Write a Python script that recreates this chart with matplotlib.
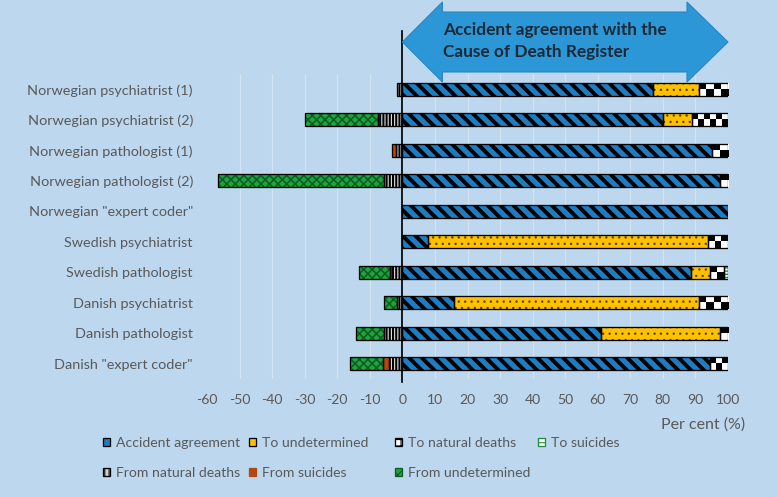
import numpy as np
import matplotlib.pyplot as plt
from matplotlib.patches import Polygon, Patch
from matplotlib.transforms import blended_transform_factory

categories = ['Norwegian psychiatrist (1)', 'Norwegian psychiatrist (2)',
              'Norwegian pathologist (1)', 'Norwegian pathologist (2)',
              'Norwegian "expert coder"', 'Swedish psychiatrist',
              'Swedish pathologist', 'Danish psychiatrist',
              'Danish pathologist', 'Danish "expert coder"']

# right side (per cent of cases moving away from / staying at accident)
accident = [77, 80, 95, 97.5, 100, 8, 88.5, 16, 61, 94.5]
to_undetermined = [14, 9, 0, 0, 0, 86, 6, 75, 36.5, 0]
to_natural = [9, 11, 5, 2.5, 0, 6, 4.3, 9, 2.5, 5.5]
to_suicides = [0, 0, 0, 0, 0, 0, 1.2, 0, 0, 0]

# left side (per cent coming into accident from other causes)
from_natural = [1.5, 7.4, 2, 5.7, 0, 0, 3.2, 1.6, 5.5, 4.2]
from_suicides = [0, 0, 1.1, 0, 0, 0, 0.7, 0, 0, 1.7]
from_undetermined = [0, 22.4, 0, 50.8, 0, 0, 9.5, 4.1, 8.6, 10.3]

xticks = list(range(-60, 101, 10))

BG = '#BDD7EE'
TXT = '#595959'
DPI = 77.8
plt.rcParams['font.family'] = ['Lato', 'DejaVu Sans']

fig = plt.figure(figsize=(10, 497 / DPI), dpi=DPI, facecolor=BG)
ax = fig.add_axes([207 / 778, 1 - 379 / 497, (728 - 207) / 778, (379 - 74) / 497])
ax.set_facecolor(BG)

y = np.arange(len(categories))
H = 0.42


def segment(left, width, face, hatch=None, hcolor='black', hlw=1.0):
    left = np.asarray(left, float)
    width = np.asarray(width, float)
    keep = width != 0
    with plt.rc_context({'hatch.linewidth': hlw}):
        bars = ax.barh(y[keep], width[keep], H, left=left[keep], color=face,
                       hatch=hatch, edgecolor=hcolor, linewidth=0, zorder=3)
    ax.barh(y[keep], width[keep], H, left=left[keep], fill=False,
            edgecolor='black', linewidth=1.2, zorder=5)
    return bars


acc = np.array(accident, float)
tu = np.array(to_undetermined, float)
tn = np.array(to_natural, float)
fn = np.array(from_natural, float)
fs = np.array(from_suicides, float)

segment(np.zeros_like(acc), accident, '#1F7CC1', '\\\\', 'black', 3.6)
segment(acc, to_undetermined, '#FFC000', '..', '#5a4200', 1.0)
segment(acc + tu, to_natural, 'white')
segment(acc + tu + tn, to_suicides, 'white', '----', '#1E8E3A', 1.2)

# checker pattern for "to natural deaths"
for yi, l, w in zip(y, acc + tu, tn):
    if w <= 0:
        continue
    n = max(1, int(round(w / 2.0)))
    board = np.indices((2, n)).sum(axis=0) % 2
    ax.imshow(board, cmap='gray', extent=(l, l + w, yi + H / 2, yi - H / 2),
              aspect='auto', interpolation='nearest', zorder=4)

segment(np.zeros_like(fn), -fn, '#DCDCDC', '||||', 'black', 1.9)
segment(-fn, -fs, '#B5470F')
segment(-fn - fs, [-v for v in from_undetermined], '#1FA33C', 'xxx', '#0C5E22', 1.5)

ax.set_xlim(-60, 100)
ax.set_ylim(len(categories) - 0.5, -0.5)
ax.set_xticks(xticks, [str(t) for t in xticks])
ax.set_yticks(y, categories)
ax.grid(axis='x', color='#D3E3F0', linewidth=1.2, zorder=0)
ax.get_xgridlines()[0].set_visible(False)
ax.set_axisbelow(True)
for s in ax.spines.values():
    s.set_visible(False)
ax.tick_params(axis='y', length=0, pad=13, labelcolor=TXT, labelsize=13.3)
ax.tick_params(axis='x', length=0, pad=14, labelcolor=TXT, labelsize=13)
ax.axvline(0, ymin=-0.01, ymax=1.141, color='black', linewidth=1.6,
           clip_on=False, zorder=6)
fig.text(745 / 778, 1 - 425 / 497, 'Per cent (%)', ha='right', va='center',
         color=TXT, fontsize=14.8)

# arrow banner
tr = blended_transform_factory(ax.transData, fig.transFigure)
yc, hh, bh = 1 - 42 / 497, 40 / 497, 30 / 497
x0, x1, b0, b1 = 0, 100, 12.3, 87.4
arrow = Polygon([(x0, yc), (b0, yc + hh), (b0, yc + bh), (b1, yc + bh),
                 (b1, yc + hh), (x1, yc), (b1, yc - hh), (b1, yc - bh),
                 (b0, yc - bh), (b0, yc - hh)], closed=True, transform=tr,
                facecolor='#2C97D6', edgecolor='#2A86C0', linewidth=1,
                clip_on=False, zorder=7)
fig.add_artist(arrow)
fig.text(443 / 778, 1 - 30 / 497, 'Accident agreement with the', ha='left',
         va='center', fontsize=16, fontweight='bold', color='#1B2836', zorder=8)
fig.text(443 / 778, 1 - 52 / 497, 'Cause of Death Register', ha='left',
         va='center', fontsize=16, fontweight='bold', color='#1B2836', zorder=8)

# legend: four equal-width columns like the original
handles = [
    Patch(facecolor='#1F7CC1', edgecolor='black', linewidth=1.2),
    Patch(facecolor='#D4D4D4', edgecolor='black', hatch='|||', linewidth=1.2),
    Patch(facecolor='#FFC000', edgecolor='black', linewidth=1.2),
    Patch(facecolor='#B5470F', edgecolor='#B5470F', linewidth=1.2),
    Patch(facecolor='white', edgecolor='black', hatch='++', linewidth=1.2),
    Patch(facecolor='#1FA33C', edgecolor='#0C5E22', hatch='xx', linewidth=1.2),
    Patch(facecolor='white', edgecolor='#1E8E3A', hatch='---', linewidth=1.2),
]
labels = ['Accident agreement', 'From natural deaths', 'To undetermined',
          'From suicides', 'To natural deaths', 'From undetermined', 'To suicides']
col_x = [103, 249, 395, 538]
for i, cx in enumerate(col_x):
    fig.legend(handles[2 * i:2 * i + 2], labels[2 * i:2 * i + 2],
               loc='upper left', bbox_to_anchor=(cx / 778, 1 - 437 / 497),
               frameon=False, borderpad=0, borderaxespad=0,
               handlelength=0.5, handleheight=0.5, handletextpad=0.45,
               labelspacing=1.3, fontsize=13, labelcolor=TXT)

fig.savefig('out.png', dpi=DPI, facecolor=BG)
